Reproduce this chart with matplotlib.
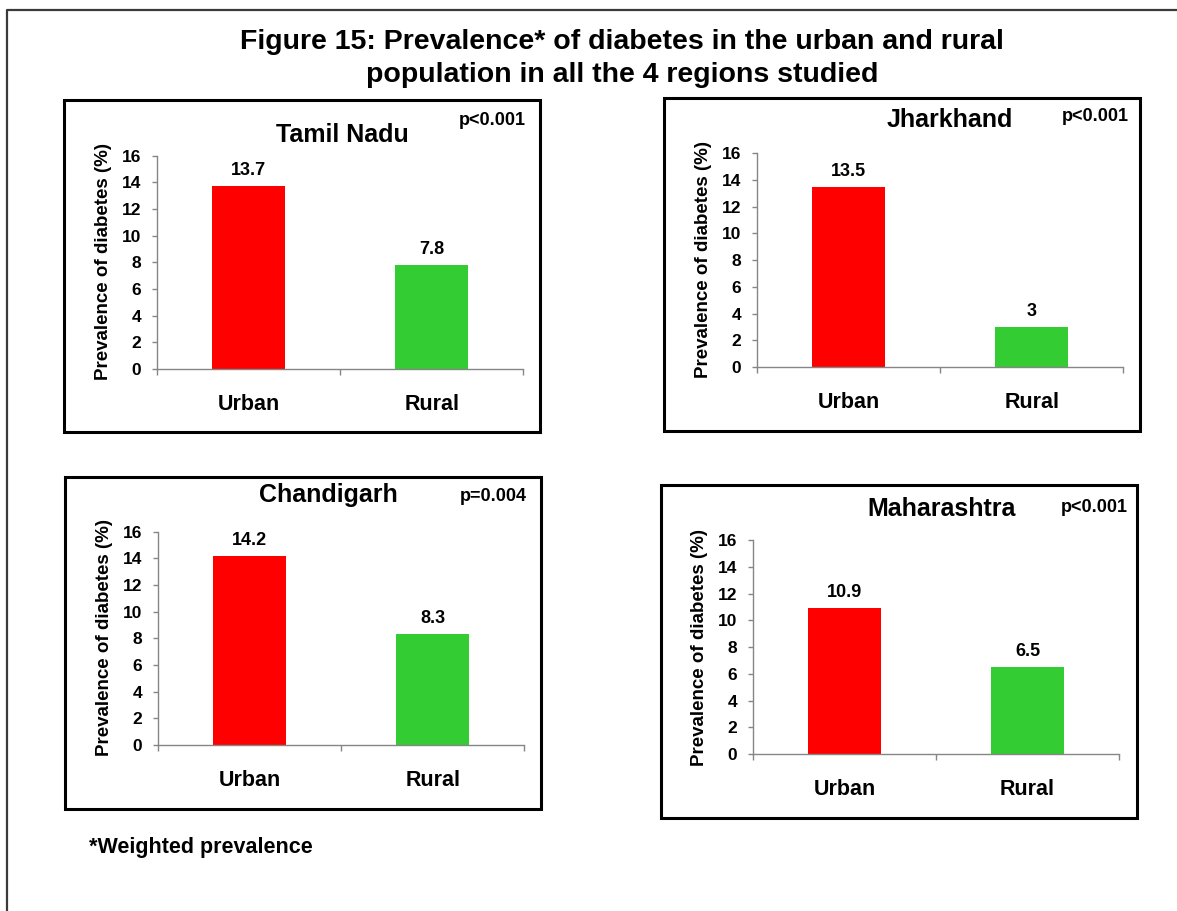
import matplotlib
matplotlib.use("Agg")
import matplotlib.pyplot as plt
from matplotlib.patches import Rectangle
from matplotlib.lines import Line2D

plt.rcParams["font.family"] = ["Liberation Sans", "DejaVu Sans"]
plt.rcParams["font.weight"] = "bold"

# ---- data -------------------------------------------------------------
categories = ["Urban", "Rural"]
regions = ["Tamil Nadu", "Jharkhand", "Chandigarh", "Maharashtra"]
p_values = ["p<0.001", "p<0.001", "p=0.004", "p<0.001"]
tamil_nadu = [13.7, 7.8]
jharkhand = [13.5, 3]
chandigarh = [14.2, 8.3]
maharashtra = [10.9, 6.5]
series = [tamil_nadu, jharkhand, chandigarh, maharashtra]
y_ticks = [0, 2, 4, 6, 8, 10, 12, 14, 16]

bar_colors = ["#FF0000", "#33CC33"]
axis_gray = "#868686"

W, H = 1177, 911
fig = plt.figure(figsize=(W / 100, H / 100), dpi=100)


def fx(x):
    return x / W


def fy(y):
    return 1 - y / H


def px2pt(p):
    return p * 72 / 100


# panel layout in pixels: frame box, plot area, title/p-value positions
layouts = [
    dict(box=(64, 99.5, 540, 432), ax=(157.3, 155.7, 523.3, 369),
         title=(342.5, 141.7), p=(492, 125), ylab=(103.5, 262)),
    dict(box=(664, 98.3, 1140, 430.7), ax=(757, 153.3, 1123.3, 367),
         title=(949.7, 127), p=(1095.7, 121), ylab=(703.5, 260)),
    dict(box=(65, 476.7, 541, 809), ax=(158.3, 531.7, 524.3, 745),
         title=(328, 502.3), p=(493.6, 500.7), ylab=(104.5, 638)),
    dict(box=(660.7, 485.3, 1136.6, 817.5), ax=(753.3, 540.3, 1119, 754),
         title=(942, 515.7), p=(1094, 511.7), ylab=(699.5, 647)),
]

# outer page frame (left and top edges)
fig.add_artist(Line2D([fx(7), fx(7), fx(W + 5)], [fy(H + 5), fy(10), fy(10)],
                      transform=fig.transFigure, color="#3a3a3a", lw=1.6))

fig.text(fx(622), fy(49), "Figure 15: Prevalence* of diabetes in the urban and rural",
         ha="center", va="baseline", fontsize=20.5, fontweight="bold")
fig.text(fx(622), fy(82), "population in all the 4 regions studied",
         ha="center", va="baseline", fontsize=20.5, fontweight="bold")

for region, pval, vals, lay in zip(regions, p_values, series, layouts):
    bx0, by0, bx1, by1 = lay["box"]
    fig.add_artist(Rectangle((fx(bx0), fy(by1)), (bx1 - bx0) / W, (by1 - by0) / H,
                             transform=fig.transFigure, fill=False,
                             edgecolor="black", lw=2.2))

    ax0, ay16, ax1, ay0 = lay["ax"]
    ax = fig.add_axes([fx(ax0), fy(ay0), (ax1 - ax0) / W, (ay0 - ay16) / H])
    xs = [0.5, 1.5]
    ax.bar(xs, vals, width=0.4, color=bar_colors, edgecolor="none", zorder=2)
    for x, v in zip(xs, vals):
        ax.annotate(f"{v:g}", xy=(x, v), xytext=(0, px2pt(11)),
                    textcoords="offset points", ha="center", va="baseline",
                    fontsize=13, fontweight="bold")

    ax.set_xlim(0, 2)
    ax.set_ylim(0, 16)
    ax.set_yticks(y_ticks)
    ax.set_yticklabels([str(t) for t in y_ticks])
    ax.set_xticks(xs)
    ax.set_xticklabels(categories)
    ax.set_xticks([0, 1, 2], minor=True)
    ax.tick_params(axis="x", which="major", length=0, pad=18,
                   labelsize=15.5)
    ax.tick_params(axis="x", which="minor", length=px2pt(6), width=1,
                   color=axis_gray, direction="out")
    ax.tick_params(axis="y", which="major", length=px2pt(5), width=1,
                   color=axis_gray, direction="out", pad=8, labelsize=12.5)
    for lbl in ax.get_xticklabels() + ax.get_yticklabels():
        lbl.set_fontweight("bold")
    for side in ("top", "right"):
        ax.spines[side].set_visible(False)
    for side in ("left", "bottom"):
        ax.spines[side].set_color(axis_gray)
        ax.spines[side].set_linewidth(1.0)
    ax.patch.set_alpha(0)

    tx, ty = lay["title"]
    fig.text(fx(tx), fy(ty), region, ha="center", va="baseline",
             fontsize=18, fontweight="bold")
    ppx, ppy = lay["p"]
    fig.text(fx(ppx), fy(ppy), pval, ha="center", va="baseline",
             fontsize=13, fontweight="bold")
    lx, ly = lay["ylab"]
    fig.text(fx(lx), fy(ly), "Prevalence of diabetes (%)", rotation=90,
             ha="center", va="center", fontsize=13.5, fontweight="bold")

fig.text(fx(89), fy(853), "*Weighted prevalence", ha="left", va="baseline",
         fontsize=15.5, fontweight="bold")

fig.savefig("out.png", dpi=100, facecolor="white")
